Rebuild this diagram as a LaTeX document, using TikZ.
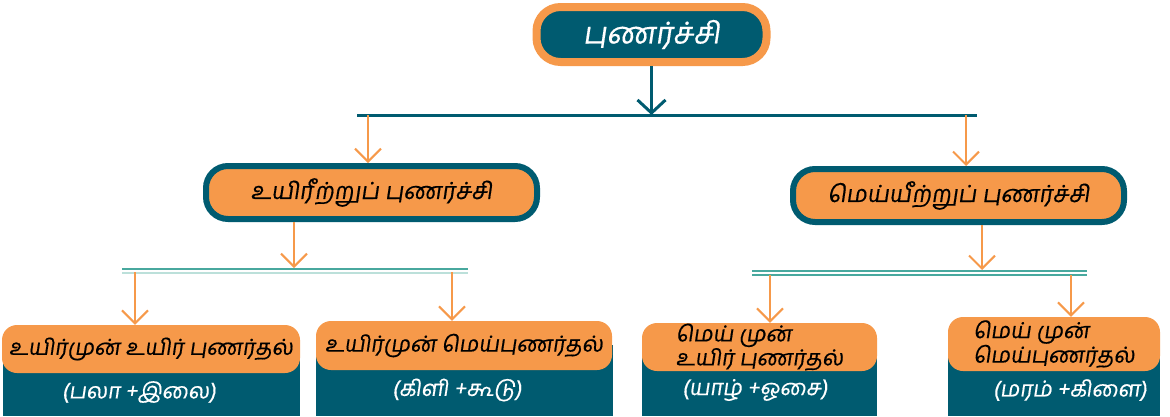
\documentclass[tikz,border=0pt]{standalone}
\usepackage{fontspec}
\newfontfamily\tamil[Script=Tamil,FakeSlant=0.15,FakeBold=0.4]{Hind Madurai}
\usetikzlibrary{arrows.meta}
\definecolor{deepteal}{HTML}{005B70}
\definecolor{sunorange}{HTML}{F6994A}
\definecolor{seagreen}{HTML}{48A89E}
\definecolor{palegreen}{HTML}{BCE0DA}
\begin{document}
\begin{tikzpicture}[x=1pt,y=-1pt,
	topbox/.style={rounded corners=24pt, draw=sunorange, fill=deepteal, line width=8pt, text=white, minimum width=230pt, minimum height=55pt, font=\tamil\fontsize{30}{34}\selectfont},
	midbox/.style={rounded corners=22pt, draw=deepteal, fill=sunorange, line width=6pt, minimum width=331pt, minimum height=53pt, font=\tamil\fontsize{23.5}{26}\selectfont},
	namebox/.style={rounded corners=15pt, fill=sunorange, inner sep=0pt, align=left, font=\tamil\fontsize{22}{22}\selectfont},
	basebox/.style={fill=deepteal, inner sep=0pt, minimum height=71pt},
	example/.style={text=white, font=\tamil\fontsize{22}{24}\selectfont},
	tarrow/.style={draw=deepteal, line width=3pt, -{Straight Barb[length=13pt,width=28pt]}},
	oarrow/.style={draw=sunorange, line width=2pt, -{Straight Barb[length=13pt,width=26pt]}}]
	\useasboundingbox (0,0) rectangle (1170,416);
	% top
	\node[topbox] (root) at (651.5,34.5) {புணர்ச்சி};
	\coordinate (barL) at (357,115);
	\coordinate (barR) at (977,115);
	\draw[deepteal, line width=3pt] (barL) -- (barR);
	\draw[tarrow] (root.south) -- (root.south |- barL);
	% middle
	\node[midbox] (vowel) at (371.5,192.5) {உயிரீற்றுப் புணர்ச்சி};
	\node[midbox] (cons) at (958.5,195.5) {மெய்யீற்றுப் புணர்ச்சி};
	\coordinate (tapL) at (368,115);
	\coordinate (tapR) at (966,115);
	\draw[oarrow] (tapL) -- (tapL |- vowel.north);
	\draw[oarrow] (tapR) -- (tapR |- cons.north);
	% double bars
	\coordinate (subLa) at (122,269);
	\coordinate (subLb) at (468,269);
	\coordinate (subLm) at (294,268);
	\coordinate (subRa) at (752,271);
	\coordinate (subRb) at (1087,271);
	\coordinate (subRm) at (982,270);
	\draw[seagreen, line width=2.5pt] (subLa) -- (subLb);
	\draw[palegreen, line width=2pt] ([yshift=-3.5pt]subLa) -- ([yshift=-3.5pt]subLb);
	\draw[seagreen, line width=2.5pt] (subRa) -- (subRb);
	\draw[seagreen, line width=1.5pt] ([yshift=-4pt]subRa) -- ([yshift=-4pt]subRb);
	\draw[oarrow] (vowel.south -| subLm) -- (subLm);
	\draw[oarrow] (cons.south -| subRm) -- (subRm);
	% bottom boxes
	\node[basebox, minimum width=297pt] (base1) at (151.5,380.5) {};
	\node[basebox, minimum width=297pt] (base2) at (464.5,380.5) {};
	\node[basebox, minimum width=235pt] (base3) at (759.5,380.5) {};
	\node[basebox, minimum width=212pt] (base4) at (1054,380.5) {};
	\node[namebox, minimum width=298pt, minimum height=48pt] (name1) at (151,349) {உயிர்முன் உயிர் புணர்தல்};
	\node[namebox, minimum width=296pt, minimum height=49pt] (name2) at (464,345.5) {உயிர்முன் மெய்புணர்தல்};
	\node[namebox, minimum width=235pt, minimum height=48pt] (name3) at (759.5,347) {மெய் முன்\\உயிர் புணர்தல்};
	\node[namebox, minimum width=212pt, minimum height=54pt] (name4) at (1054,344) {மெய் முன்\\மெய்புணர்தல்};
	\node[example] (ex1) at (139,392) {(பலா +இலை)};
	\node[example] (ex2) at (457,390) {(கிளி +கூடு)};
	\node[example] (ex3) at (755,390) {(யாழ் +ஓசை)};
	\node[example] (ex4) at (1070,390) {(மரம் +கிளை)};
	\coordinate (tap1) at (135,272);
	\coordinate (tap2) at (452,272);
	\coordinate (tap3) at (770,275);
	\coordinate (tap4) at (1071,275);
	\draw[oarrow] (tap1) -- (tap1 |- name1.north);
	\draw[oarrow] (tap2) -- (tap2 |- name2.north);
	\draw[oarrow] (tap3) -- (tap3 |- name3.north);
	\draw[oarrow] (tap4) -- (tap4 |- name4.north);
\end{tikzpicture}
\end{document}
